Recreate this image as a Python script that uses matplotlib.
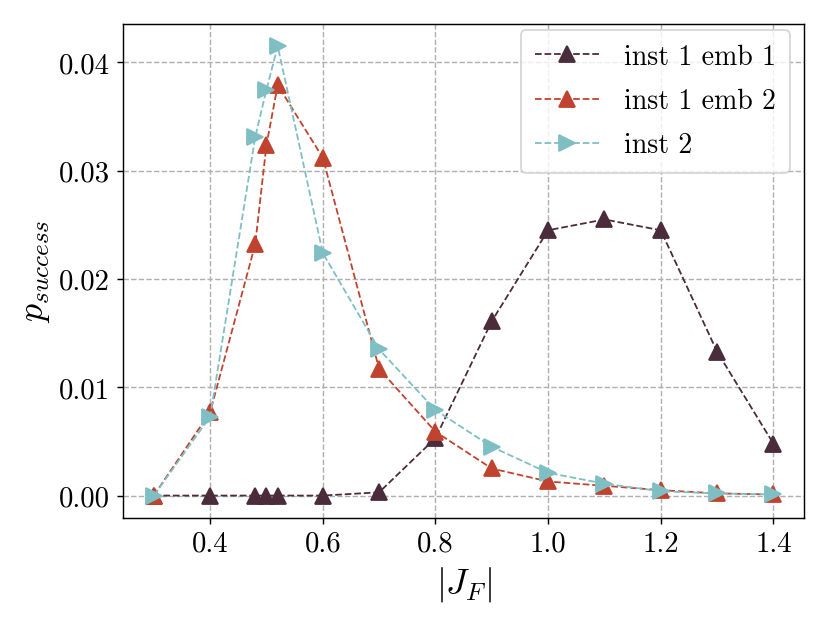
import numpy as np
import matplotlib
matplotlib.use("Agg")
import matplotlib.pyplot as plt

plt.rcParams["font.family"] = "serif"
plt.rcParams["font.serif"] = ["cmr10", "DejaVu Serif"]
plt.rcParams["mathtext.fontset"] = "cm"
plt.rcParams["axes.formatter.use_mathtext"] = True
plt.rcParams["axes.unicode_minus"] = False

# --------------------------
# data
# --------------------------
jf = [0.3, 0.4, 0.48, 0.5, 0.52, 0.6, 0.7, 0.8, 0.9, 1.0, 1.1, 1.2, 1.3, 1.4]

p_inst1_emb1 = [0.0, 0.0, 0.0, 0.0, 0.0, 0.0, 0.0003, 0.0053, 0.0161, 0.0245,
                0.0255, 0.0245, 0.0133, 0.0048]
p_inst1_emb2 = [0.0, 0.0077, 0.0232, 0.0324, 0.0379, 0.0312, 0.0117, 0.0059,
                0.0025, 0.0013, 0.0009, 0.0005, 0.0002, 0.0001]
p_inst2 = [0.0, 0.0073, 0.0331, 0.0375, 0.0415, 0.0224, 0.0135, 0.0079,
           0.0045, 0.0021, 0.0011, 0.0004, 0.0002, 0.0001]

labels = ["inst 1 emb 1", "inst 1 emb 2", "inst 2"]
colors = ["#4b2c3a", "#c0432f", "#7fbfc3"]
markers = ["^", "^", ">"]

# --------------------------
# plot
# --------------------------
fig, ax = plt.subplots(figsize=(6.4, 4.8), dpi=129.7)
fig.subplots_adjust(left=0.148, right=0.969, top=0.961, bottom=0.167)

for ys, lab, c, m in zip([p_inst1_emb1, p_inst1_emb2, p_inst2], labels, colors, markers):
    ax.plot(jf, ys, linestyle="--", marker=m, color=c, markersize=8.5,
            linewidth=1.0, label=lab)

ax.grid(True, linestyle="--", color="#b0b0b0", linewidth=0.8)
ax.set_axisbelow(True)

ax.set_xlabel(r"$|J_F|$", fontsize=20)
ax.set_ylabel(r"$p_{success}$", fontsize=20)
ax.set_xticks([0.4, 0.6, 0.8, 1.0, 1.2, 1.4])
ax.set_yticks([0.0, 0.01, 0.02, 0.03, 0.04])
ax.set_xticklabels(["0.4", "0.6", "0.8", "1.0", "1.2", "1.4"])
ax.set_yticklabels(["0.00", "0.01", "0.02", "0.03", "0.04"])
ax.tick_params(labelsize=16)

ax.legend(loc="upper right", bbox_to_anchor=(0.979, 0.988), fontsize=15.5,
          framealpha=0.8, handlelength=2.3, handletextpad=0.9,
          labelspacing=0.65, borderpad=0.5, borderaxespad=0.0)

fig.savefig("out.png", dpi=129.7)
